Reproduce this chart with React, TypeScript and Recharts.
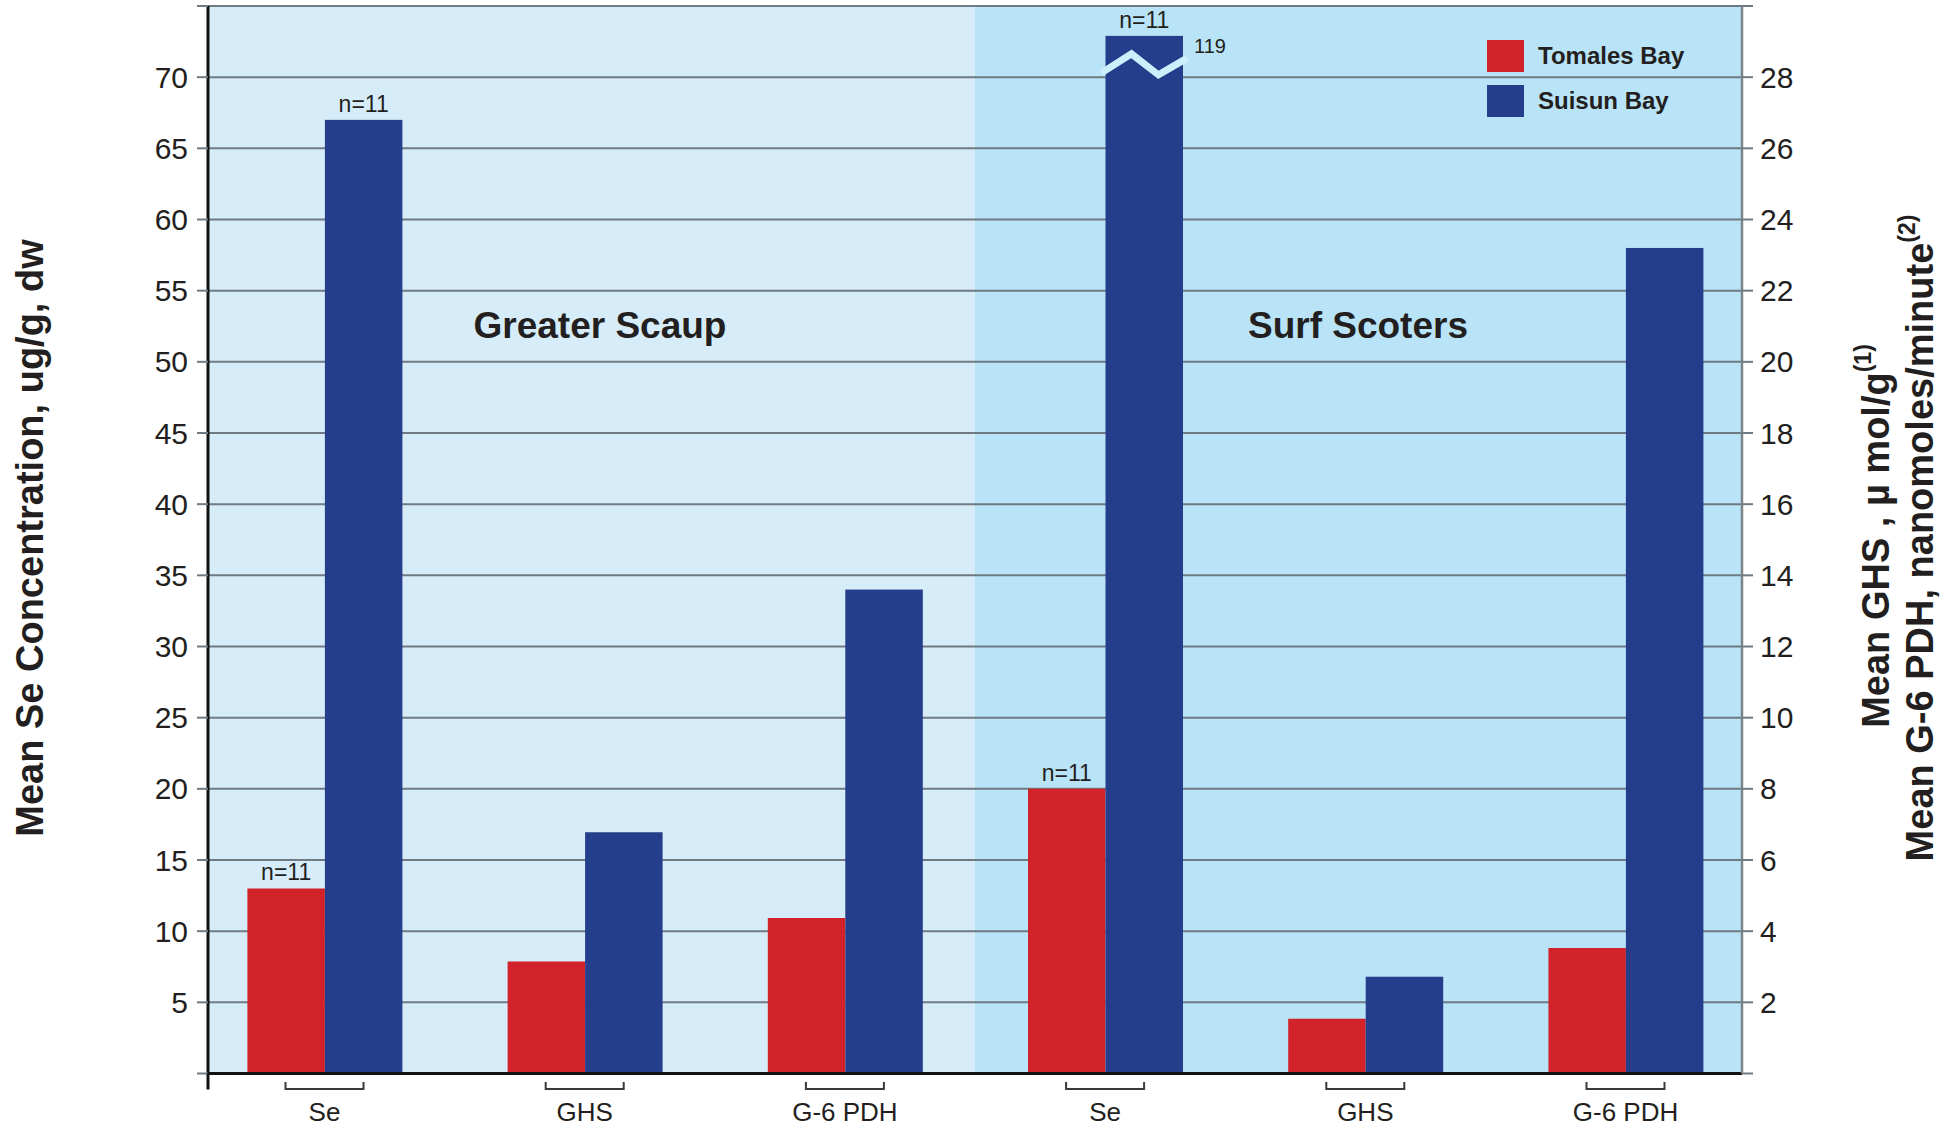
import React from "react"
import { BarChart, Bar, XAxis, YAxis, CartesianGrid, Legend, LabelList } from "recharts"

// categories, two bird groups of three measures each
const categories = ["gs-se", "gs-ghs", "gs-g6pdh", "ss-se", "ss-ghs", "ss-g6pdh"]
const categoryLabels = ["Se", "GHS", "G-6 PDH", "Se", "GHS", "G-6 PDH"]
const groupTitles = ["Greater Scaup", "Surf Scoters"]

// Se in ug/g dw (left axis), GHS in umol/g and G-6 PDH in nmol/min (right axis)
const tomalesBay = [13, 3.15, 4.37, 20, 1.54, 3.53]
const suisunBay = [67, 6.78, 13.6, 119, 2.72, 23.2]
const tomalesNotes = ["n=11", "", "", "n=11", "", ""]
const suisunNotes = ["n=11", "", "", "n=11", "", ""]

const seriesNames = ["Tomales Bay", "Suisun Bay"]
const seriesColors = ["#D2232A", "#243E8B"]

const leftTicks = [0, 5, 10, 15, 20, 25, 30, 35, 40, 45, 50, 55, 60, 65, 70, 75]
const rightTicks = [0, 2, 4, 6, 8, 10, 12, 14, 16, 18, 20, 22, 24, 26, 28, 30]
const leftMax = 75
const rightMax = 30
// axis break: the 119 bar is cut here
const breakAt = 72.9

const FONT = "'Liberation Sans', Arial, Helvetica, sans-serif"
const TEXT = "#231F20"

const data = categories.map((key, i) => {
  const k = categoryLabels[i] === "Se" ? 1 : leftMax / rightMax
  const s = suisunBay[i] * k
  return {
    key,
    label: categoryLabels[i],
    tomales: tomalesBay[i] * k,
    suisun: Math.min(s, breakAt),
    suisunActual: suisunBay[i],
    broken: s > breakAt,
    tNote: tomalesNotes[i],
    sNote: suisunNotes[i],
  }
})

const SuisunShape = (props: any) => {
  const { x, y, width, height, fill } = props
  const p = props.payload ?? props
  return (
    <g>
      <rect x={x} y={y} width={width} height={height} fill={fill} />
      {p.broken && (
        <g>
          <polyline
            points={`${x - 4},${y + 37} ${x + 26},${y + 18} ${x + 53},${y + 39} ${x + 82},${y + 22}`}
            fill="none"
            stroke="#CDEEFB"
            strokeWidth={7}
          />
          <text x={x + width + 11} y={y + 17} fontSize={20} fontFamily={FONT} fill={TEXT}>
            {p.suisunActual}
          </text>
        </g>
      )}
    </g>
  )
}

const CategoryTick = (props: any) => {
  const { x, y, payload, index } = props
  const label = categoryLabels[index] ?? payload.value
  return (
    <g>
      <path
        d={`M${x - 39},${y + 8.5} V${y + 15.5} H${x + 39} V${y + 8.5}`}
        fill="none"
        stroke="#3A3A3A"
        strokeWidth={2}
      />
      <text x={x} y={y + 47.5} textAnchor="middle" fontSize={26} fontFamily={FONT} fill={TEXT}>
        {label}
      </text>
    </g>
  )
}

// left tick; at 0 the axis line runs on a little below the base line
const LeftTick = (props: any) => {
  const { x, y, payload } = props
  const v = payload.value
  return (
    <g>
      {v === 0 && <line x1={x + 20} y1={y} x2={x + 20} y2={y + 16} stroke="#111" strokeWidth={3} />}
      {v !== 0 && v !== leftMax && (
        <text x={x} y={y} dy="0.355em" textAnchor="end" fontSize={30} fontFamily={FONT} fill={TEXT}>
          {v}
        </text>
      )}
    </g>
  )
}

const LegendContent = () => (
  <div style={{ fontFamily: FONT, fontWeight: "bold", fontSize: 24, color: TEXT }}>
    {seriesNames.map((name, i) => (
      <div key={name} style={{ display: "flex", alignItems: "center", height: 32, marginBottom: 13 }}>
        <span style={{ display: "inline-block", width: 37, height: 32, background: seriesColors[i], marginRight: 14 }} />
        <span>{name}</span>
      </div>
    ))}
  </div>
)

export default function App() {
  return (
    <div style={{ position: "absolute", left: 0, top: 0, width: 1955, height: 1127, background: "#fff" }}>
      <BarChart
        width={1955}
        height={1127}
        data={data}
        margin={{ top: 6, right: 0, bottom: 0, left: 0 }}
        barGap={0}
        barSize={77.5}
      >
        <CartesianGrid
          yAxisId="left"
          stroke="#6F7A82"
          strokeWidth={2}
          vertical={(() => <g />) as any}
          verticalCoordinatesGenerator={({ offset }: any) => [offset.left, offset.left + offset.width / 2]}
          verticalFill={["#D6EDF9", "#B9E3F7"]}
          fillOpacity={1}
        />
        <XAxis
          dataKey="key"
          height={53.5}
          padding={{ left: -13.6, right: -13.6 }}
          axisLine={{ stroke: "#111", strokeWidth: 3 }}
          tickLine={false}
          tickSize={0}
          tickMargin={0}
          interval={0}
          tick={<CategoryTick />}
        />
        <YAxis
          yAxisId="left"
          orientation="left"
          width={208}
          domain={[0, leftMax]}
          allowDataOverflow
          ticks={leftTicks}
          interval={0}
          axisLine={{ stroke: "#111", strokeWidth: 3 }}
          tickLine={{ stroke: "#6F7A82", strokeWidth: 2 }}
          tickSize={11}
          tickMargin={9}
          tick={<LeftTick />}
        />
        <YAxis
          yAxisId="right"
          orientation="right"
          width={213}
          domain={[0, rightMax]}
          allowDataOverflow
          ticks={rightTicks}
          interval={0}
          tickFormatter={(v: number) => (v === 0 || v === rightMax ? "" : String(v))}
          axisLine={{ stroke: "#7F8488", strokeWidth: 2.5 }}
          tickLine={{ stroke: "#6F7A82", strokeWidth: 2 }}
          tickSize={11}
          tickMargin={7}
          tick={{ fontSize: 30, fontFamily: FONT, fill: TEXT, textAnchor: "start" }}
        />
        <Legend
          layout="horizontal"
          align="center"
          verticalAlign="middle"
          content={<LegendContent />}
          wrapperStyle={{ top: 40, left: 1487, width: "auto" }}
        />
        <Bar yAxisId="left" dataKey="tomales" name={seriesNames[0]} fill={seriesColors[0]} isAnimationActive={false}>
          <LabelList dataKey="tNote" position="top" offset={8} fontSize={23} fontFamily={FONT} fill={TEXT} />
        </Bar>
        <Bar
          yAxisId="left"
          dataKey="suisun"
          name={seriesNames[1]}
          fill={seriesColors[1]}
          shape={<SuisunShape />}
          isAnimationActive={false}
        >
          <LabelList dataKey="sNote" position="top" offset={8} fontSize={23} fontFamily={FONT} fill={TEXT} />
        </Bar>
        <text x={600} y={338} textAnchor="middle" fontSize={37} fontWeight="bold" fontFamily={FONT} fill={TEXT}>
          {groupTitles[0]}
        </text>
        <text x={1358} y={338} textAnchor="middle" fontSize={37} fontWeight="bold" fontFamily={FONT} fill={TEXT}>
          {groupTitles[1]}
        </text>
        <text
          transform="translate(30, 538) rotate(-90)"
          textAnchor="middle"
          dominantBaseline="central"
          fontSize={38}
          fontWeight="bold"
          fontFamily={FONT}
          fill={TEXT}
        >
          Mean Se Concentration, ug/g, dw
        </text>
        <text
          transform="translate(1876, 536) rotate(-90)"
          textAnchor="middle"
          dominantBaseline="central"
          fontSize={38}
          fontWeight="bold"
          fontFamily={FONT}
          fill={TEXT}
        >
          Mean GHS , µ mol/g
          <tspan fontSize={23} dy={-13}>(1)</tspan>
        </text>
        <text
          transform="translate(1920, 538) rotate(-90)"
          textAnchor="middle"
          dominantBaseline="central"
          fontSize={38}
          fontWeight="bold"
          fontFamily={FONT}
          fill={TEXT}
        >
          Mean G-6 PDH, nanomoles/minute
          <tspan fontSize={23} dy={-13}>(2)</tspan>
        </text>
      </BarChart>
    </div>
  )
}
